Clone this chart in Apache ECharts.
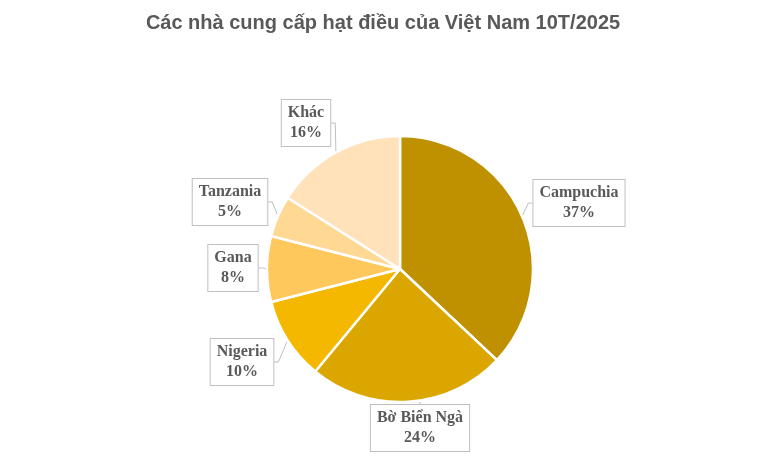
<!DOCTYPE html>
<html>
<head>
<meta charset="utf-8">
<script src="https://cdn.jsdelivr.net/npm/echarts@6/dist/echarts.min.js"></script>
<style>html,body{margin:0;padding:0;background:#fff}#main{width:766px;height:471px}</style>
</head>
<body>
<div id="main"></div>
<script>
var names = ['Campuchia', 'Bờ Biển Ngà', 'Nigeria', 'Gana', 'Tanzania', 'Khác'];
var values = [37, 24, 10, 8, 5, 16];
var colors = ['#BF9000', '#DBA600', '#F4B800', '#FFC85C', '#FFD894', '#FFE1BA'];
// label box centres
var labelPos = [[579, 203], [420, 428], [242, 362], [233, 268], [230, 202], [306, 123]];

var chart = echarts.init(document.getElementById('main'));
var data = [];
for (var i = 0; i < names.length; i++) {
	data.push({ name: names[i], value: values[i], itemStyle: { color: colors[i] } });
}
chart.setOption({
	animation: false,
	title: {
		text: 'Các nhà cung cấp hạt điều của Việt Nam 10T/2025',
		left: 'center',
		top: 8,
		textStyle: { fontFamily: 'Liberation Sans', fontWeight: 'bold', fontSize: 20, color: '#595959' }
	},
	series: [{
		type: 'pie',
		center: [400, 269],
		radius: 133,
		startAngle: 90,
		clockwise: true,
		data: data,
		itemStyle: { borderColor: '#fff', borderWidth: 2.5 },
		label: {
			show: true,
			position: 'outside',
			formatter: '{b}\n{d}%',
			fontFamily: 'Liberation Serif',
			fontWeight: 'bold',
			fontSize: 16,
			lineHeight: 20,
			color: '#595959',
			align: 'center',
			backgroundColor: '#fff',
			borderColor: '#BFBFBF',
			borderWidth: 1,
			padding: [4, 6, 2, 6]
		},
		labelLine: { show: true, length: 8, length2: 4, lineStyle: { color: '#BFBFBF', width: 1 } },
		labelLayout: function (p) {
			var pos = labelPos[p.dataIndex];
			return { x: pos[0], y: pos[1], align: 'center', verticalAlign: 'middle' };
		}
	}]
});
</script>
</body>
</html>
